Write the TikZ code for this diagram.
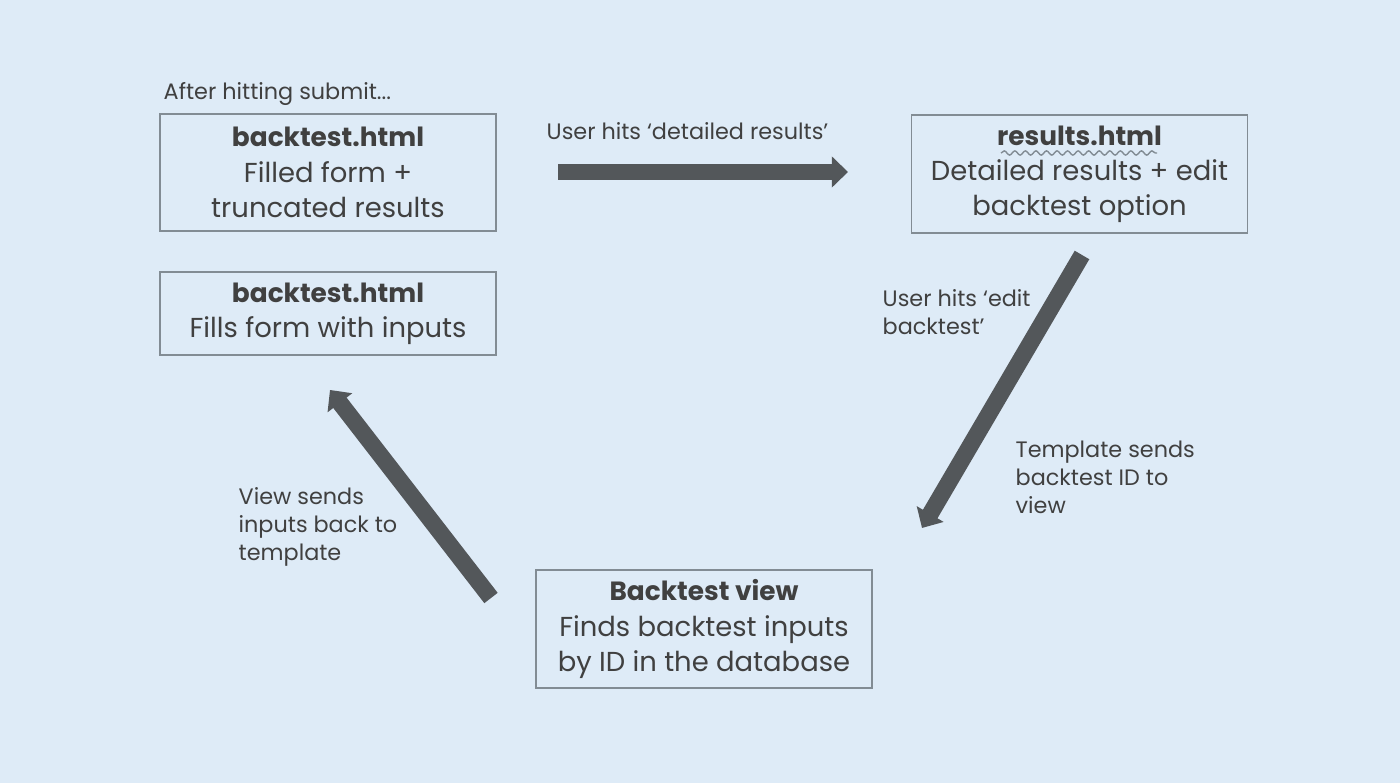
\documentclass[tikz,border=0pt]{standalone}
\usepackage{fontspec}
\setmainfont{Poppins}
\usetikzlibrary{arrows.meta,decorations.pathmorphing}
\definecolor{pagebg}{HTML}{DEEBF7}
\definecolor{inktext}{HTML}{404040}
\definecolor{inkarrow}{HTML}{53575A}
\definecolor{inkframe}{HTML}{828C94}
\newcommand{\boxtitle}[1]{{\fontsize{7.5}{10}\selectfont\textbf{#1}}}
\tikzset{
  pagebox/.style={draw=inkframe, line width=0.5pt, minimum width=3.36cm, align=center,
    inner sep=0pt, text=inktext, font=\fontsize{7.8}{10}\selectfont},
  flowarrow/.style={draw=inkarrow, line width=4.8pt, -{Triangle[width=8.6pt,length=4.6pt]}},
  note/.style={align=left, anchor=base west, inner sep=0pt, text=inktext,
    font=\fontsize{6.35}{8}\selectfont},
}
\begin{document}
\begin{tikzpicture}[x=0.01cm, y=-0.01cm]
    \fill [pagebg] (0,0) rectangle (1400,783);

    % boxes
    \node [pagebox, minimum height=1.17cm] (filled) at (328,172.5)
      {\boxtitle{backtest.html}\\Filled form +\\truncated results};
    \node [pagebox, minimum height=0.83cm] (refill) at (328,313.5)
      {\boxtitle{backtest.html}\\Fills form with inputs};
    \node [pagebox, minimum height=1.18cm] (results) at (1079.5,174)
      {\boxtitle{results.html}\\Detailed results + edit\\backtest option};
    \node [pagebox, minimum height=1.18cm] (view) at (704,629)
      {\boxtitle{Backtest view}\\Finds backtest inputs\\by ID in the database};

    % coordinates to be reused
    \coordinate (detailsA) at (558,172);
    \coordinate (detailsB) at (848,172);
    \coordinate (editA) at (1082,255);
    \coordinate (editB) at (922,528);
    \coordinate (backA) at (491,598);
    \coordinate (backB) at (330,390);

    % draw arrows
    \draw [flowarrow] (detailsA) -- (detailsB);
    \draw [flowarrow] (editA) -- (editB);
    \draw [flowarrow] (backA) -- (backB);

    % spell check squiggle
    \draw [inkframe, line width=0.4pt, decorate, decoration={snake, amplitude=0.6pt, segment length=3pt}]
      (1001,153) -- (1157,153);

    % add labels (base is the last line)
    \node [note] (submit) at (163,100) {After hitting submit...};
    \node [note] (hitdetails) at (546,140) {User hits `detailed results'};
    \node [note] (hitedit) at (882,335) {User hits `edit\\backtest'};
    \node [note] (sendid) at (1015,514) {Template sends\\backtest ID to\\view};
    \node [note] (sendback) at (238,561) {View sends\\inputs back to\\template};
\end{tikzpicture}
\end{document}
